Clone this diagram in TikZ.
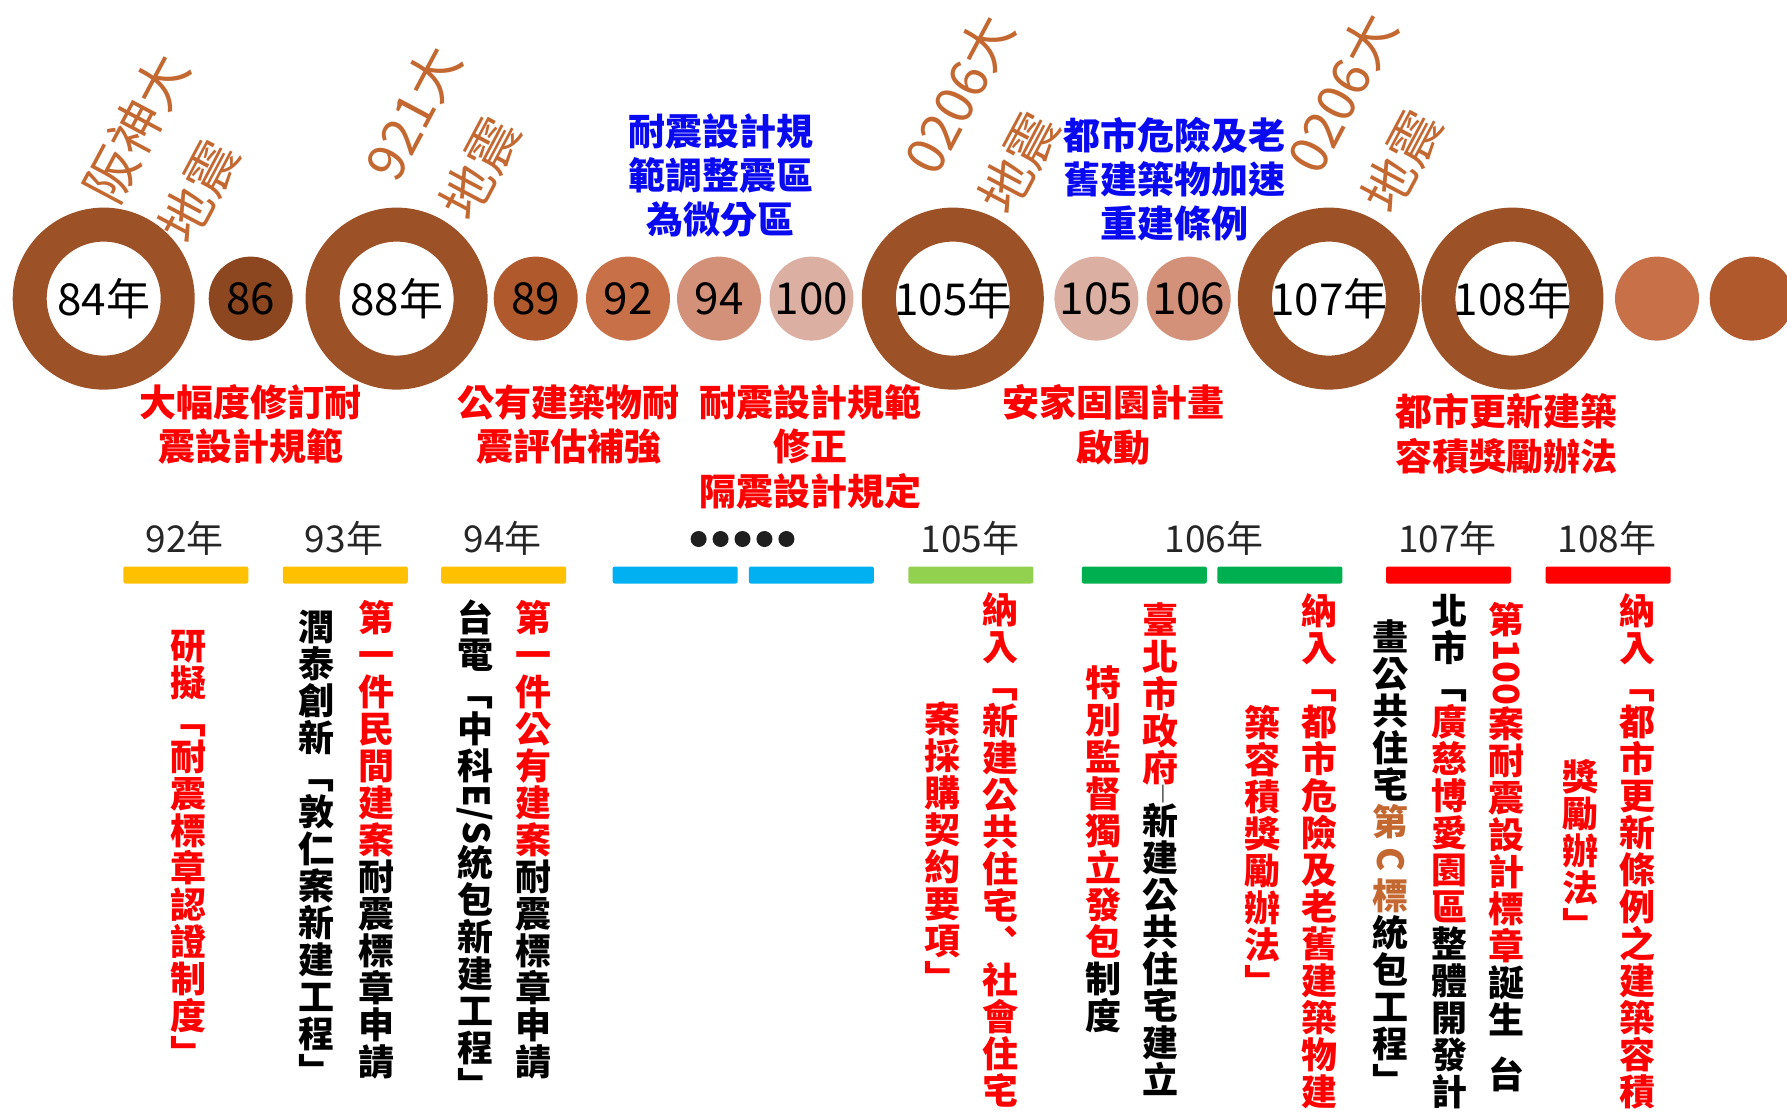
\documentclass[tikz,border=0pt]{standalone}
\usepackage{fontspec}
\setmainfont{Noto Sans CJK TC}
\usepackage{graphicx}
\definecolor{ringbrown}{HTML}{9C5127}
\definecolor{quake}{HTML}{C46832}
\definecolor{c86}{HTML}{8C4620}
\definecolor{c89}{HTML}{B0592D}
\definecolor{c92}{HTML}{C87048}
\definecolor{c94}{HTML}{D4917A}
\definecolor{c100}{HTML}{DBB0A3}
\definecolor{ybar}{HTML}{FFC000}
\definecolor{cbar}{HTML}{00B0F0}
\definecolor{lgbar}{HTML}{92D050}
\definecolor{gbar}{HTML}{00B050}
\definecolor{tlred}{HTML}{FF0000}
\definecolor{tlblue}{HTML}{0A0AF0}

% one character per cell, top to bottom
\makeatletter
\newcommand\vt[1]{\@tfor\vt@c:=#1\do{\hbox to 1em{\hss\vrule height .88em depth .12em width 0pt\vt@c\hss}}}
\makeatother
\newcommand\rot[1]{\rotatebox[origin=c]{-90}{#1}}

\tikzstyle{ring}=[circle,draw=ringbrown,line width=34pt,minimum size=148pt,inner sep=0pt,font=\fontsize{44}{44}\selectfont]
\tikzstyle{yeardot}=[circle,minimum size=84pt,inner sep=0pt,font=\fontsize{44}{44}\selectfont]
\tikzstyle{quakelbl}=[rotate=62,align=left,text=quake,inner sep=0pt,font=\fontsize{53}{85}\selectfont]
\tikzstyle{event}=[align=center,text=tlred,inner sep=0pt,font=\bfseries\fontsize{37}{44.5}\selectfont]
\tikzstyle{law}=[align=center,text=tlblue,inner sep=0pt,font=\bfseries\fontsize{37}{44}\selectfont]
\tikzstyle{yearlbl}=[inner sep=0pt,text=black!85,font=\fontsize{37}{37}\selectfont]
\tikzstyle{tlbar}=[rounded corners=2pt,minimum width=125pt,minimum height=17pt,inner sep=0pt]
\tikzstyle{vcol}=[anchor=north,inner sep=0pt,font=\bfseries\fontsize{36}{37}\selectfont]

\begin{document}
\begin{tikzpicture}[x=1pt,y=-1pt]
\useasboundingbox (0,0) rectangle (1787,1114);

% year circles
\node (r84) at (103.7,298.6) [ring] {84年};
\node (d86) at (250.7,298.6) [yeardot,fill=c86] {86};
\node (r88) at (396.6,298.6) [ring] {88年};
\node (d89) at (535.7,298.6) [yeardot,fill=c89] {89};
\node (d92) at (628,298.6) [yeardot,fill=c92] {92};
\node (d94) at (719,298.6) [yeardot,fill=c94] {94};
\node (d100) at (811.5,298.6) [yeardot,fill=c100] {100};
\node (r105) at (952.8,298.6) [ring] {105年};
\node (d105) at (1096.4,298.6) [yeardot,fill=c100] {105};
\node (d106) at (1188.7,298.6) [yeardot,fill=c94] {106};
\node (r107) at (1328.9,298.6) [ring] {107年};
\node (r108) at (1512.4,298.6) [ring] {108年};
\node (d109) at (1657,298.6) [yeardot,fill=c92] {};
\node (d110) at (1751.7,298.6) [yeardot,fill=c89] {};

% earthquakes
\node (q84) at (173.5,148) [quakelbl] {阪神大\\地震};
\node (q88) at (450.4,132.4) [quakelbl] {921大\\地震};
\node (q105) at (996.5,114.2) [quakelbl] {0206大\\地震};
\node (q107) at (1379.3,112.5) [quakelbl] {0206大\\地震};

% laws above, events below
\node (l92) at (720.5,175) [law] {耐震設計規\\範調整震區\\為微分區};
\node (l106) at (1174,179) [law] {都市危險及老\\舊建築物加速\\重建條例};

\node (e84) at (250.7,424.5) [event] {大幅度修訂耐\\震設計規範};
\node (e89) at (568.7,424.5) [event] {公有建築物耐\\震評估補強};
\node (e94) at (810,446.8) [event] {耐震設計規範\\修正\\隔震設計規定};
\node (e105) at (1113.5,425) [event] {安家固園計畫\\啟動};
\node (e108) at (1506.7,434) [event] {都市更新建築\\容積獎勵辦法};

% label years and bars
\node (y92) at (184.6,538) [yearlbl] {92年};
\node (y93) at (344,538) [yearlbl] {93年};
\node (y94) at (502.6,538) [yearlbl] {94年};
\foreach \i in {0,...,4}
  \node (dot\i) at ({698.6+21.95*\i},539) [circle,fill=black!88,minimum size=16pt,inner sep=0pt] {};
\node (y105) at (970,538) [yearlbl] {105年};
\node (y106) at (1213.8,538) [yearlbl] {106年};
\node (y107) at (1447.4,538) [yearlbl] {107年};
\node (y108) at (1607,538) [yearlbl] {108年};

\node (b92) at (185.8,575) [tlbar,fill=ybar] {};
\node (b93) at (345.3,575) [tlbar,fill=ybar] {};
\node (b94) at (503.7,575) [tlbar,fill=ybar] {};
\node (bx1) at (675.2,575) [tlbar,fill=cbar] {};
\node (bx2) at (811.4,575) [tlbar,fill=cbar] {};
\node (b105) at (970.9,575) [tlbar,fill=lgbar] {};
\node (b106a) at (1144.3,575) [tlbar,fill=gbar] {};
\node (b106b) at (1279.8,575) [tlbar,fill=gbar] {};
\node (b107) at (1448.5,575) [tlbar,fill=tlred] {};
\node (b108) at (1608.1,575) [tlbar,fill=tlred] {};

% vertical columns
\node (v1) at (188,628) [vcol,text=tlred] {\vbox{\vt{研擬﹁耐震標章認證制度﹂}}};
\node (v2) at (316.8,609) [vcol,text=black] {\vbox{\vt{潤泰創新﹁敦仁案新建工程﹂}}};
\node (v3) at (376,599.5) [vcol,text=tlred] {\vbox{\vt{第一件民間建案}\color{black}\vt{耐震標章申請}}};
\node (v4) at (475,599.5) [vcol,text=black] {\vbox{\vt{台電﹁中科{\rot{E/S}}統包新建工程﹂}}};
\node (v5) at (533.4,599.5) [vcol,text=tlred] {\vbox{\vt{第一件公有建案}\color{black}\vt{耐震標章申請}}};

\node (v6) at (942.5,701) [vcol,text=tlred] {\vbox{\vt{案採購契約要項﹂}}};
\node (v7) at (1000.7,592) [vcol,text=tlred] {\vbox{\vt{納入﹁新建公共住宅︑社會住宅}}};

\node (v8) at (1103.2,664.5) [vcol,text=tlred] {\vbox{\vt{特別監督獨立發包}\color{black}\vt{制度}}};
\node (v9) at (1160.5,601.5) [vcol,text=tlred] {\vbox{\vt{臺北市政府}\vskip16pt\color{black}\vt{新建公共住宅建立}}};
\node (v9m) at (1163,794) [inner sep=0pt,font=\fontsize{16}{16}\selectfont] {|};
\node (v10) at (1262.8,704.5) [vcol,text=tlred] {\vbox{\vt{築容積獎勵辦法﹂}}};
\node (v11) at (1319.8,593) [vcol,text=tlred] {\vbox{\vt{納入﹁都市危險及老舊建築物建}}};

\node (v12) at (1390.4,619) [vcol,text=black] {\vbox{\vt{畫公共住宅}\color{quake}\vt{第{\rot{C}}標}\color{black}\vt{統包工程﹂}}};
\node (v13) at (1449.7,593) [vcol,text=black] {\vbox{\vt{北市﹁}\color{tlred}\vt{廣慈博愛園區}\color{black}\vt{整體開發計}}};
\node (v14) at (1506.7,602) [vcol,text=tlred] {\vbox{\vt{第{\rot{100}}案耐震設計標章}\color{black}\vt{誕生}\vskip18pt\vt{台}}};

\node (v15) at (1580.8,759) [vcol,text=tlred] {\vbox{\vt{獎勵辦法﹂}}};
\node (v16) at (1637.8,593) [vcol,text=tlred] {\vbox{\vt{納入﹁都市更新條例之建築容積}}};
\end{tikzpicture}
\end{document}
